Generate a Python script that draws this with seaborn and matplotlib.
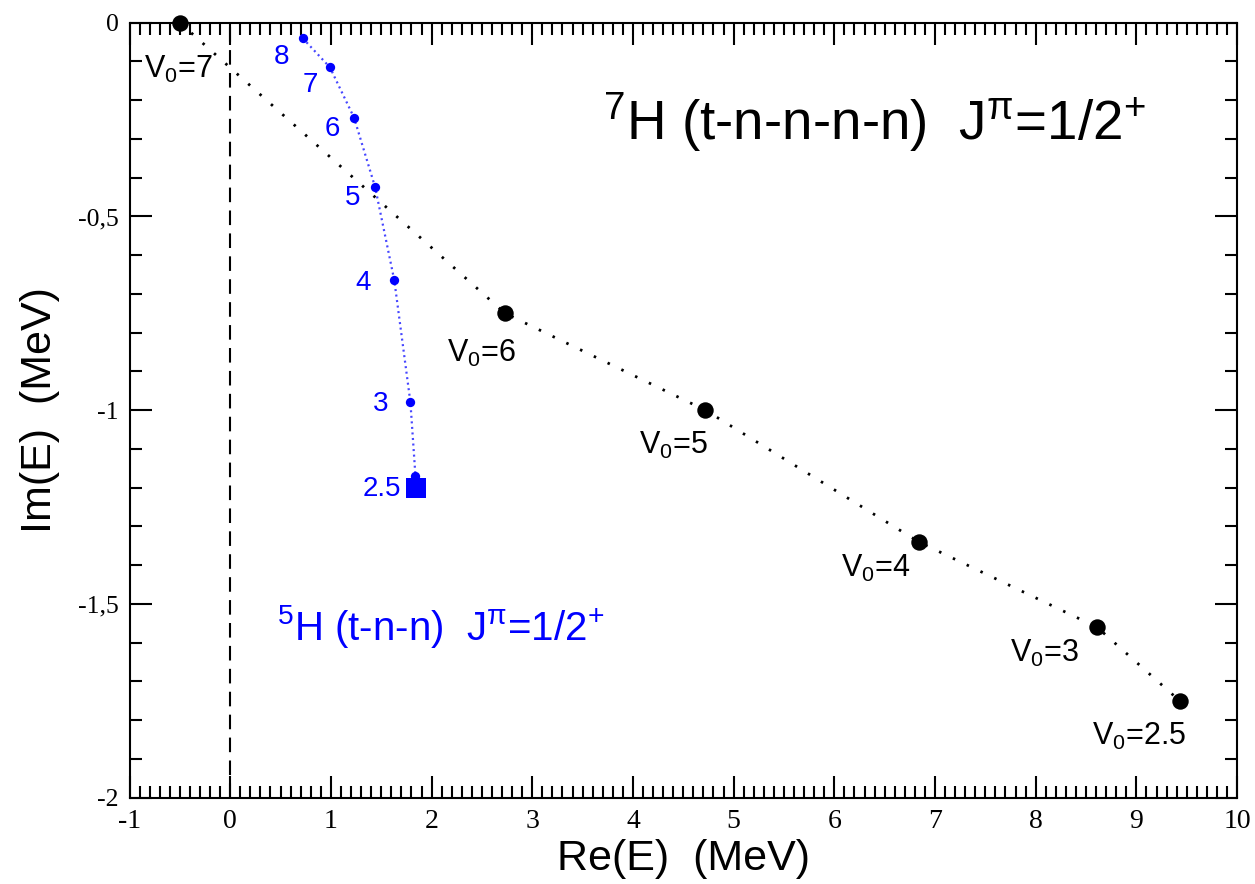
import matplotlib
matplotlib.use("Agg")
import matplotlib.pyplot as plt
from matplotlib.ticker import MultipleLocator, FuncFormatter
import pandas as pd
import seaborn as sns

# 7H (t-n-n-n-n) resonance trajectory as a function of the potential depth V0
h7_v0 = ["7", "6", "5", "4", "3", "2.5"]
h7_re = [-0.5, 2.73, 4.72, 6.84, 8.61, 9.43]
h7_im = [0.0, -0.75, -1.0, -1.34, -1.56, -1.75]

# 5H (t-n-n) resonance trajectory
h5_v0 = ["8", "7", "6", "5", "4", "3", "2.5"]
h5_re = [0.72, 0.99, 1.23, 1.44, 1.63, 1.79, 1.84]
h5_im = [-0.04, -0.115, -0.245, -0.425, -0.665, -0.98, -1.17]

# 5H reference point
h5_ref_re = [1.85]
h5_ref_im = [-1.20]

x_ticks = list(range(-1, 11))
y_ticks = [0, -0.5, -1, -1.5, -2]

# label offsets (points) relative to each marker
h7_offsets = [(-26, -40), (-42, -35), (-48, -31.5), (-56, -25), (-63, -25), (-63, -32)]
h5_offsets = [(-15, -18.5), (-14, -18), (-16, -13), (-16, -13), (-22.5, -7), (-21.5, -6.5), (-24.5, -14.5)]

sns.set_style("ticks")
plt.rcParams["font.family"] = ["Liberation Sans", "DejaVu Sans"]
plt.rcParams["mathtext.fontset"] = "custom"
plt.rcParams["mathtext.rm"] = "Liberation Sans"
plt.rcParams["mathtext.it"] = "Liberation Sans:italic"
plt.rcParams["mathtext.bf"] = "Liberation Sans:bold"
plt.rcParams["text.color"] = "black"
plt.rcParams["axes.labelcolor"] = "black"

h7 = pd.DataFrame({"re": h7_re, "im": h7_im, "v0": h7_v0})
h5 = pd.DataFrame({"re": h5_re, "im": h5_im, "v0": h5_v0})
ref = pd.DataFrame({"re": h5_ref_re, "im": h5_ref_im})

fig = plt.figure(figsize=(12.55, 8.84), dpi=100)
ax = fig.add_axes([0.1032, 0.0976, 0.8825, 0.8767])

# zero-energy guide
ax.axvline(0, color="black", lw=1.5, linestyle=(0, (7, 4)), zorder=1)

# trajectories
sns.lineplot(data=h7, x="re", y="im", sort=False, estimator=None, ax=ax,
             color="black", lw=2.0, linestyle=(0, (0.9, 4.6)), zorder=2)
sns.lineplot(data=h5, x="re", y="im", sort=False, estimator=None, ax=ax,
             color="#4646ff", lw=1.6, linestyle=(0, (0.9, 1.6)), zorder=2)

sns.scatterplot(data=h7, x="re", y="im", ax=ax, color="black", s=140,
                linewidth=0, zorder=3, clip_on=False)
sns.scatterplot(data=h5, x="re", y="im", ax=ax, color="#0000ff", s=45,
                linewidth=0, zorder=3)
sns.scatterplot(data=ref, x="re", y="im", ax=ax, color="#0000ff", marker="s",
                s=210, linewidth=0, zorder=3)

for (x, y, v), off in zip(zip(h7_re, h7_im, h7_v0), h7_offsets):
    ax.annotate(r"V$_0$=" + v, (x, y), xytext=off, textcoords="offset points",
                ha="left", va="baseline", fontsize=22, color="black")

for (x, y, v), off in zip(zip(h5_re, h5_im, h5_v0), h5_offsets):
    ax.annotate(v, (x, y), xytext=off, textcoords="offset points",
                ha="center", va="baseline", fontsize=20, color="#0000ff")

ax.text(3.70, -0.302, r"$^{7}$H (t-n-n-n-n)  J$^{\mathrm{\pi}}$=1/2$^{+}$",
        fontsize=39.5, color="black", ha="left", va="baseline")
ax.text(0.46, -1.593, r"$^{5}$H (t-n-n)  J$^{\mathrm{\pi}}$=1/2$^{+}$",
        fontsize=29, color="#0000ff", ha="left", va="baseline")

ax.set_xlim(-1, 10)
ax.set_ylim(-2, 0)
ax.set_xticks(x_ticks)
ax.set_yticks(y_ticks)
ax.xaxis.set_minor_locator(MultipleLocator(0.1))
ax.yaxis.set_minor_locator(MultipleLocator(0.1))
fmt = FuncFormatter(lambda v, p: f"{v:g}".replace(".", ","))
ax.xaxis.set_major_formatter(fmt)
ax.yaxis.set_major_formatter(fmt)

ax.tick_params(which="both", direction="in", top=True, right=True, width=1.5,
               color="black", labelcolor="black")
ax.tick_params(which="major", length=16)
ax.tick_params(which="minor", length=8.5)
ax.tick_params(axis="x", which="major", pad=8)
ax.tick_params(axis="y", which="major", pad=8)

fig.canvas.draw()
for lab in ax.xaxis.get_majorticklabels():
    lab.set_fontfamily("Liberation Serif")
    lab.set_fontsize(20)
for lab in ax.yaxis.get_majorticklabels():
    lab.set_fontfamily("Liberation Serif")
    lab.set_fontsize(18.5)

for sp in ax.spines.values():
    sp.set_linewidth(1.5)
    sp.set_color("black")
    sp.set_visible(True)

ax.set_xlabel("Re(E)  (MeV)", fontsize=31, labelpad=4, color="black")
ax.set_ylabel("Im(E)  (MeV)", fontsize=31, labelpad=13, color="black")

fig.savefig("out.png", dpi=100, facecolor="white")
